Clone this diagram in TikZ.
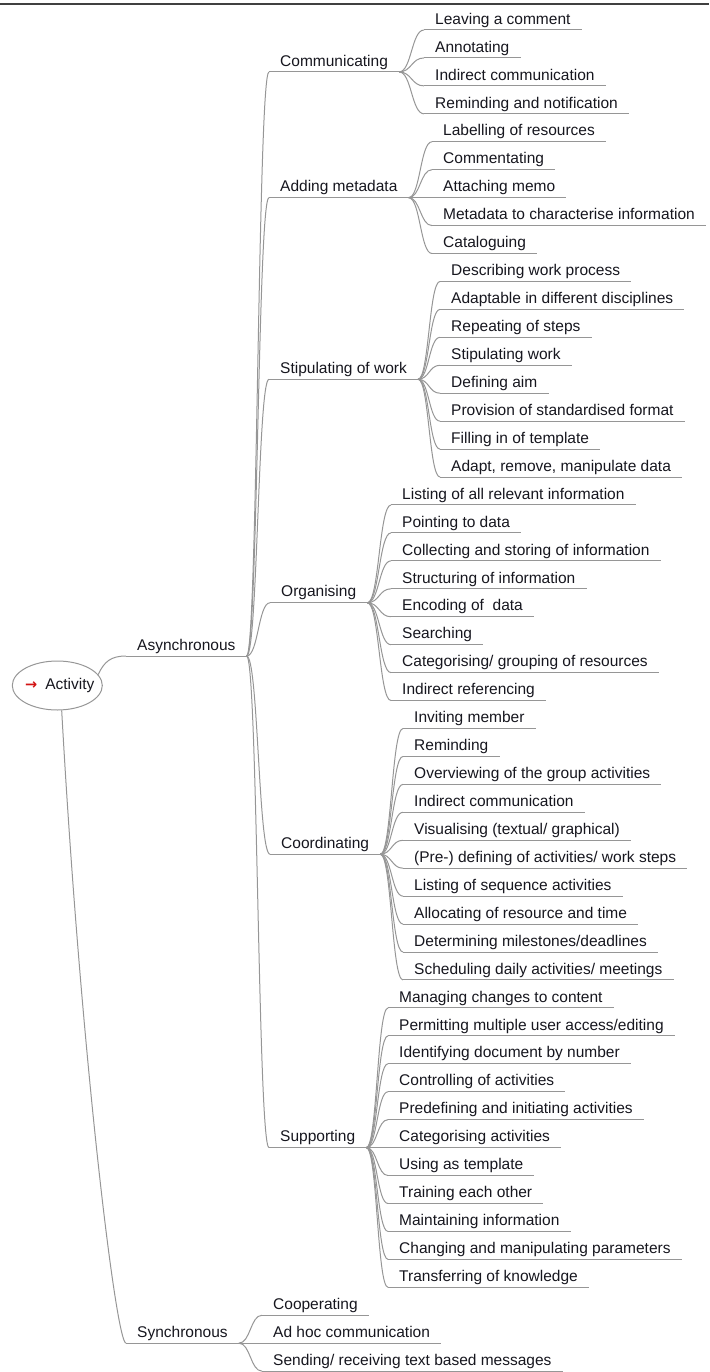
\documentclass[tikz,border=0pt]{standalone}
\usepackage{fontspec}
\setmainfont{Liberation Sans}
\newfontfamily\arrowfont{DejaVu Sans}
\usetikzlibrary{calc,shapes.geometric}

\definecolor{linkgray}{RGB}{150,150,150}
\definecolor{rulegray}{RGB}{64,64,64}
\definecolor{labelink}{RGB}{22,22,30}
\definecolor{arrowred}{RGB}{210,20,20}

\tikzset{
  topic/.style={anchor=south west, inner xsep=11pt, inner ysep=0pt,
    text height=11pt, text depth=5.6pt,
    font=\fontsize{15.5}{18}\selectfont, text=labelink},
  uline/.style={draw=linkgray, line width=1pt},
  link/.style={draw=linkgray, line width=1pt,
    to path={.. controls ($(\tikztostart)!0.5!(\tikztotarget|-\tikztostart)$)
               and ($(\tikztostart|-\tikztotarget)!0.5!(\tikztotarget)$) .. (\tikztotarget)}},
  rootlink/.style={draw=linkgray, line width=1pt},
  rootnode/.style={ellipse, draw=linkgray, line width=1pt,
    minimum width=90pt, minimum height=49pt, inner sep=0pt,
    font=\fontsize{15.5}{18}\selectfont, text=labelink},
}

% vertical position (underline) of row #1 in the outline
\newcommand\rowy[1]{30+27.94*#1}
% an underlined topic: name, left x, underline y, text
\newcommand\topicnode[4]{%
  \node[topic] (#1) at (#2,{#3}) {#4};
  \draw[uline] (#1.south west) -- (#1.south east);}

\begin{document}
\begin{tikzpicture}[x=1pt,y=-1pt]
\useasboundingbox (0,0) rectangle (709,1372);

% heading rule
\draw[rulegray, line width=2pt] (0,4) -- (709,4);

% central topic (label boxed to zero width so the ellipse keeps its size)
\node[rootnode] (act) at (57.3,685.5)
  {\makebox[0pt]{\hspace*{5pt}{\arrowfont\bfseries\fontsize{14.5}{16}\selectfont\color{arrowred}→}\hspace{8pt}Activity}};

% main branches
\topicnode{async}{126}{656}{Asynchronous}
\topicnode{sync}{126}{\rowy{47}}{Synchronous}

\draw[rootlink] (act.15) .. controls +(6,-13) and +(-15,0) .. (async.south west);
\draw[rootlink] (act.-80) .. controls +(19,341) and +(-10,0) .. (sync.south west);

% asynchronous sub-topics
\topicnode{comm}{269}{\rowy{1.5}}{Communicating}
\topicnode{meta}{269}{\rowy{6}}{Adding metadata}
\topicnode{stip}{269}{\rowy{12.5}}{Stipulating of work}
\topicnode{org}{270}{\rowy{20.5}}{Organising}
\topicnode{coord}{270}{\rowy{29.5}}{Coordinating}
\topicnode{supp}{269}{\rowy{40}}{Supporting}

\foreach \c in {comm,meta,stip,org,coord,supp}
  {\draw[link] (async.south east) to (\c.south west);}

% Communicating
\topicnode{comm1}{424}{\rowy{0}}{Leaving a comment}
\topicnode{comm2}{424}{\rowy{1}}{Annotating}
\topicnode{comm3}{424}{\rowy{2}}{Indirect communication}
\topicnode{comm4}{424}{\rowy{3}}{Reminding and notification}
\foreach \c in {comm1,comm2,comm3,comm4}
  {\draw[link] (comm.south east) to (\c.south west);}

% Adding metadata
\topicnode{meta1}{432}{\rowy{4}}{Labelling of resources}
\topicnode{meta2}{432}{\rowy{5}}{Commentating}
\topicnode{meta3}{432}{\rowy{6}}{Attaching memo}
\topicnode{meta4}{432}{\rowy{7}}{Metadata to characterise information}
\topicnode{meta5}{432}{\rowy{8}}{Cataloguing}
\foreach \c in {meta1,meta2,meta3,meta4,meta5}
  {\draw[link] (meta.south east) to (\c.south west);}

% Stipulating of work
\topicnode{stip1}{440}{\rowy{9}}{Describing work process}
\topicnode{stip2}{440}{\rowy{10}}{Adaptable in different disciplines}
\topicnode{stip3}{440}{\rowy{11}}{Repeating of steps}
\topicnode{stip4}{440}{\rowy{12}}{Stipulating work}
\topicnode{stip5}{440}{\rowy{13}}{Defining aim}
\topicnode{stip6}{440}{\rowy{14}}{Provision of standardised format}
\topicnode{stip7}{440}{\rowy{15}}{Filling in of template}
\topicnode{stip8}{440}{\rowy{16}}{Adapt, remove, manipulate data}
\foreach \c in {stip1,stip2,stip3,stip4,stip5,stip6,stip7,stip8}
  {\draw[link] (stip.south east) to (\c.south west);}

% Organising
\topicnode{org1}{391}{\rowy{17}}{Listing of all relevant information}
\topicnode{org2}{391}{\rowy{18}}{Pointing to data}
\topicnode{org3}{391}{\rowy{19}}{Collecting and storing of information}
\topicnode{org4}{391}{\rowy{20}}{Structuring of information}
\topicnode{org5}{391}{\rowy{21}}{Encoding of~ data}
\topicnode{org6}{391}{\rowy{22}}{Searching}
\topicnode{org7}{391}{\rowy{23}}{Categorising/ grouping of resources}
\topicnode{org8}{391}{\rowy{24}}{Indirect referencing}
\foreach \c in {org1,org2,org3,org4,org5,org6,org7,org8}
  {\draw[link] (org.south east) to (\c.south west);}

% Coordinating
\topicnode{coord1}{403}{\rowy{25}}{Inviting member}
\topicnode{coord2}{403}{\rowy{26}}{Reminding}
\topicnode{coord3}{403}{\rowy{27}}{Overviewing of the group activities}
\topicnode{coord4}{403}{\rowy{28}}{Indirect communication}
\topicnode{coord5}{403}{\rowy{29}}{Visualising (textual/ graphical)}
\topicnode{coord6}{403}{\rowy{30}}{(Pre-) defining of activities/ work steps}
\topicnode{coord7}{403}{\rowy{31}}{Listing of sequence activities}
\topicnode{coord8}{403}{\rowy{32}}{Allocating of resource and time}
\topicnode{coord9}{403}{\rowy{33}}{Determining milestones/deadlines}
\topicnode{coord10}{403}{\rowy{34}}{Scheduling daily activities/ meetings}
\foreach \c in {coord1,coord2,coord3,coord4,coord5,coord6,coord7,coord8,coord9,coord10}
  {\draw[link] (coord.south east) to (\c.south west);}

% Supporting
\topicnode{supp1}{388}{\rowy{35}}{Managing changes to content}
\topicnode{supp2}{388}{\rowy{36}}{Permitting multiple user access/editing}
\topicnode{supp3}{388}{\rowy{37}}{Identifying document by number}
\topicnode{supp4}{388}{\rowy{38}}{Controlling of activities}
\topicnode{supp5}{388}{\rowy{39}}{Predefining and initiating activities}
\topicnode{supp6}{388}{\rowy{40}}{Categorising activities}
\topicnode{supp7}{388}{\rowy{41}}{Using as template}
\topicnode{supp8}{388}{\rowy{42}}{Training each other}
\topicnode{supp9}{388}{\rowy{43}}{Maintaining information}
\topicnode{supp10}{388}{\rowy{44}}{Changing and manipulating parameters}
\topicnode{supp11}{388}{\rowy{45}}{Transferring of knowledge}
\foreach \c in {supp1,supp2,supp3,supp4,supp5,supp6,supp7,supp8,supp9,supp10,supp11}
  {\draw[link] (supp.south east) to (\c.south west);}

% Synchronous
\topicnode{sync1}{262}{\rowy{46}}{Cooperating}
\topicnode{sync2}{262}{\rowy{47}}{Ad hoc communication}
\topicnode{sync3}{262}{\rowy{48}}{Sending/ receiving text based messages}
\foreach \c in {sync1,sync2,sync3}
  {\draw[link] (sync.south east) to (\c.south west);}

\end{tikzpicture}
\end{document}
